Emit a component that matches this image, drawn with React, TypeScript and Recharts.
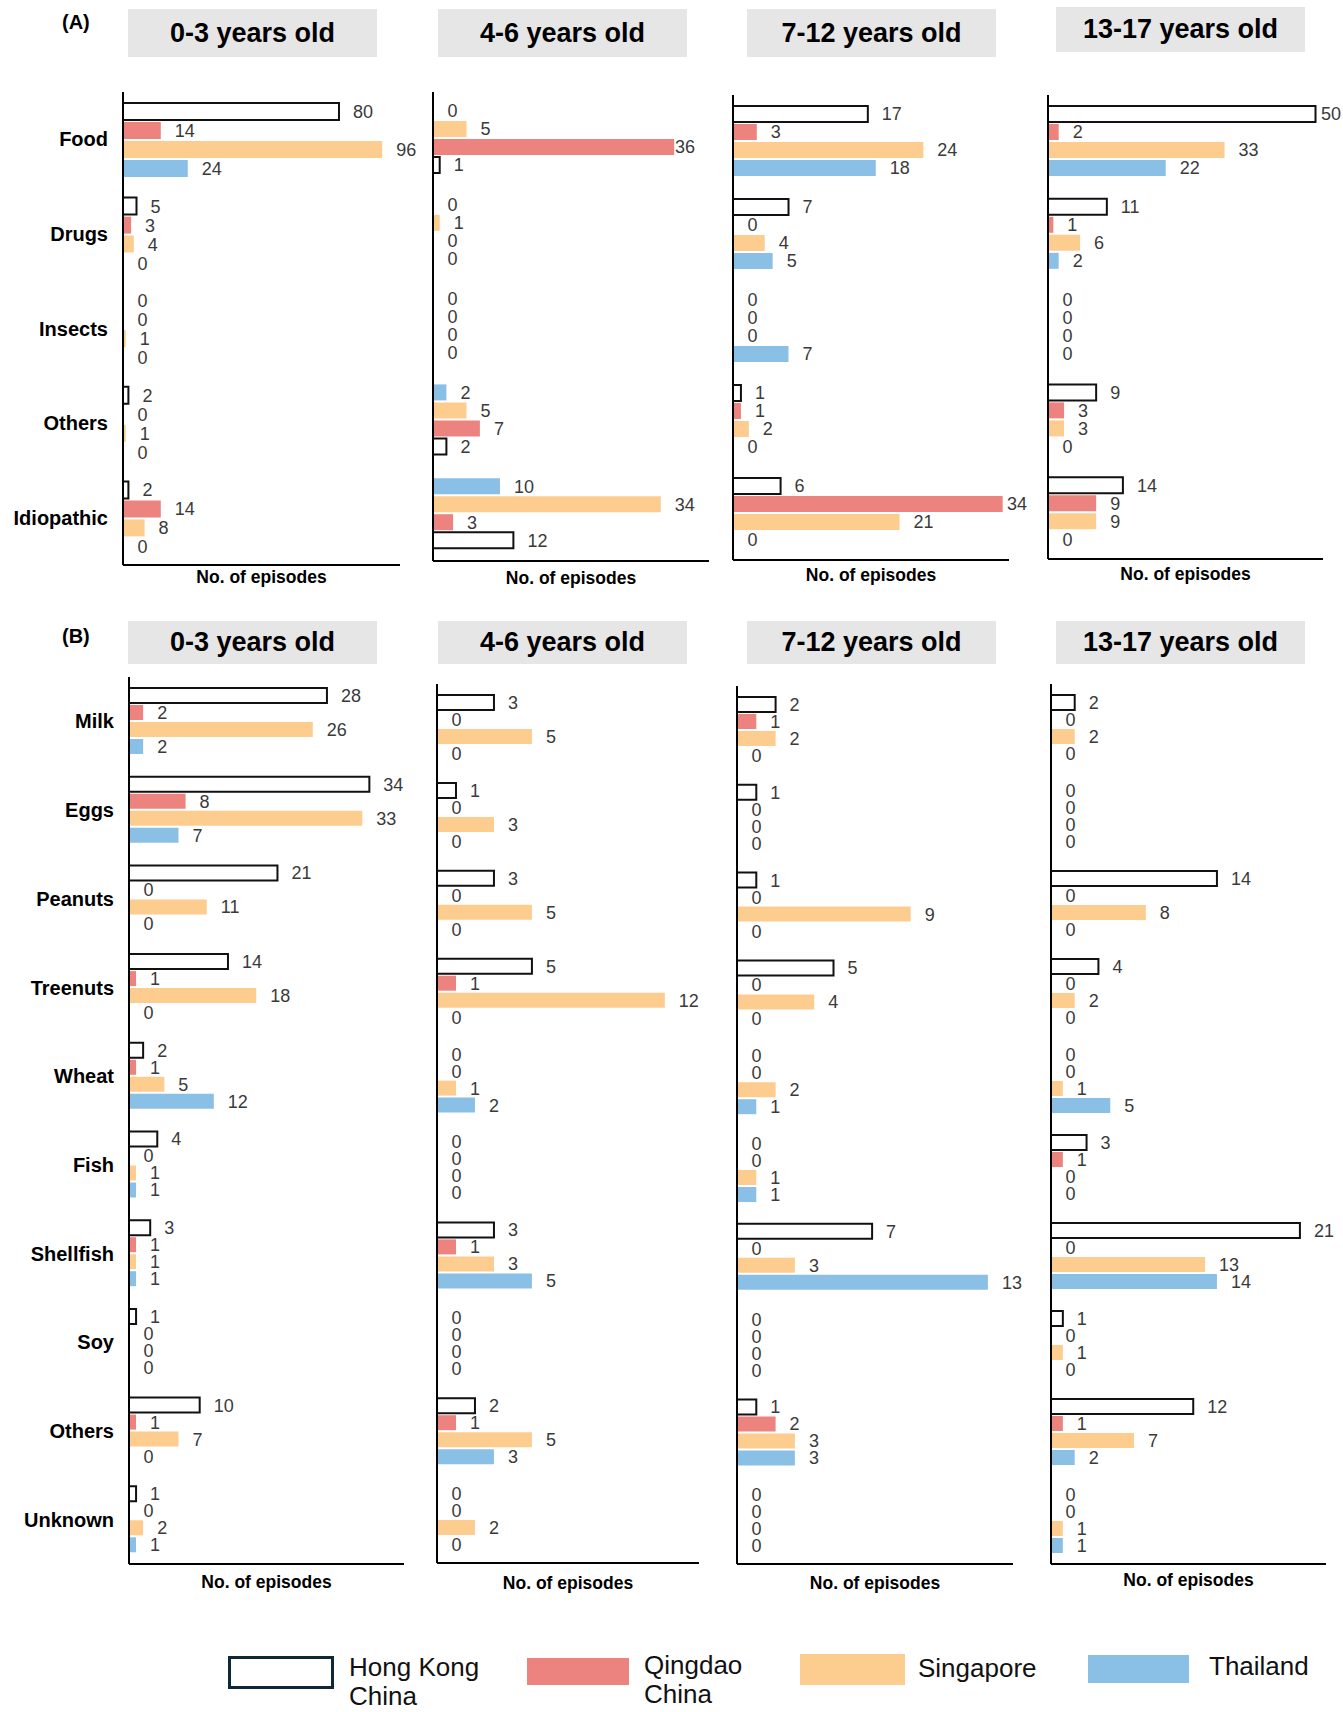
import React from 'react';
import { BarChart, Bar, XAxis, YAxis, LabelList, Label, Cell } from 'recharts';

const FONT = '"Liberation Sans", Arial, Helvetica, sans-serif';

const categoriesA = ['Food', 'Drugs', 'Insects', 'Others', 'Idiopathic'];
const categoriesB = ['Milk', 'Eggs', 'Peanuts', 'Treenuts', 'Wheat', 'Fish', 'Shellfish', 'Soy', 'Others', 'Unknown'];
const ageGroups = ['0-3 years old', '4-6 years old', '7-12 years old', '13-17 years old'];

// (A) episodes by elicitor, per age group
const A_0_3 = { hk: [80, 5, 0, 2, 2], qd: [14, 3, 0, 0, 14], sg: [96, 4, 1, 1, 8], th: [24, 0, 0, 0, 0] };
const A_4_6 = { hk: [1, 0, 0, 2, 12], qd: [36, 0, 0, 7, 3], sg: [5, 1, 0, 5, 34], th: [0, 0, 0, 2, 10] };
const A_7_12 = { hk: [17, 7, 0, 1, 6], qd: [3, 0, 0, 1, 34], sg: [24, 4, 0, 2, 21], th: [18, 5, 7, 0, 0] };
const A_13_17 = { hk: [50, 11, 0, 9, 14], qd: [2, 1, 0, 3, 9], sg: [33, 6, 0, 3, 9], th: [22, 2, 0, 0, 0] };

// (B) food-induced episodes by food, per age group
const B_0_3 = {
  hk: [28, 34, 21, 14, 2, 4, 3, 1, 10, 1],
  qd: [2, 8, 0, 1, 1, 0, 1, 0, 1, 0],
  sg: [26, 33, 11, 18, 5, 1, 1, 0, 7, 2],
  th: [2, 7, 0, 0, 12, 1, 1, 0, 0, 1],
};
const B_4_6 = {
  hk: [3, 1, 3, 5, 0, 0, 3, 0, 2, 0],
  qd: [0, 0, 0, 1, 0, 0, 1, 0, 1, 0],
  sg: [5, 3, 5, 12, 1, 0, 3, 0, 5, 2],
  th: [0, 0, 0, 0, 2, 0, 5, 0, 3, 0],
};
const B_7_12 = {
  hk: [2, 1, 1, 5, 0, 0, 7, 0, 1, 0],
  qd: [1, 0, 0, 0, 0, 0, 0, 0, 2, 0],
  sg: [2, 0, 9, 4, 2, 1, 3, 0, 3, 0],
  th: [0, 0, 0, 0, 1, 1, 13, 0, 3, 0],
};
const B_13_17 = {
  hk: [2, 0, 14, 4, 0, 3, 21, 1, 12, 0],
  qd: [0, 0, 0, 0, 0, 1, 0, 0, 1, 0],
  sg: [2, 0, 8, 2, 1, 0, 13, 1, 7, 1],
  th: [0, 0, 0, 0, 5, 0, 14, 0, 2, 1],
};

const SERIES: Record<string, { label: string[]; fill: string; stroke?: string }> = {
  hk: { label: ['Hong Kong', 'China'], fill: '#ffffff', stroke: '#111111' },
  qd: { label: ['Qingdao', 'China'], fill: '#EC837E' },
  sg: { label: ['Singapore'], fill: '#FDCC8F' },
  th: { label: ['Thailand'], fill: '#8BC0E6' },
};

const NORMAL = ['hk', 'qd', 'sg', 'th'];
const REVERSED = ['th', 'sg', 'qd', 'hk'];

// value label to the right of the bar end, kept inside the panel
const makeValueLabel = (maxX: number) => (props: any) => {
  const vb = props.viewBox || props;
  const end = Number(vb.x) + Math.max(Number(vb.width) || 0, 0);
  const cy = Number(vb.y) + Number(vb.height) / 2;
  const x = Math.min(end + 14, maxX);
  return (
    <text x={x} y={cy} dy="0.36em" fill="#3a3a3a" fontSize={18} fontFamily={FONT}>
      {props.value}
    </text>
  );
};

type PanelProps = {
  cats: string[];
  values: Record<string, number[]>;
  order: string[];
  axisX: number;
  top: number;
  plotW: number;
  plotH: number;
  max: number;
  showCats: boolean;
  labelY: number;
  labelRoom?: number;
};

const Panel = ({ cats, values, order, axisX, top, plotW, plotH, max, showCats, labelY, labelRoom = 2 }: PanelProps) => {
  const rows: Record<string, any>[] = cats.map((cat, i) => ({
    cat,
    hk: values.hk[i],
    qd: values.qd[i],
    sg: values.sg[i],
    th: values.th[i],
  }));
  const yw = showCats ? axisX : 12;
  const mt = 4;
  const mr = 40;
  const xh = 34;
  const labelOffset = xh - (labelY - (top + plotH) + 6);
  const renderLabel = makeValueLabel(yw + plotW - labelRoom);

  return (
    <div style={{ position: 'absolute', left: axisX - yw, top: top - mt }}>
      <BarChart
        layout="vertical"
        width={yw + plotW + mr}
        height={mt + plotH + xh}
        data={rows}
        margin={{ top: mt, right: mr, bottom: 0, left: 0 }}
        barCategoryGap={11}
        barGap={2}
      >
        <XAxis
          type="number"
          domain={[0, max]}
          allowDataOverflow
          tick={false}
          tickLine={false}
          axisLine={{ stroke: '#000', strokeWidth: 2 }}
          height={xh}
        >
          <Label
            value="No. of episodes"
            position="insideBottom"
            offset={labelOffset}
            fill="#000"
            fontSize={17.5}
            fontWeight="bold"
            fontFamily={FONT}
          />
        </XAxis>
        <YAxis
          type="category"
          dataKey="cat"
          width={yw}
          interval={0}
          tickLine={false}
          tickSize={0}
          tickMargin={15}
          axisLine={{ stroke: '#000', strokeWidth: 2 }}
          tick={showCats ? { fill: '#000', fontSize: 20, fontWeight: 'bold', fontFamily: FONT } : false}
        />
        {order.map((k) => (
          <Bar
            key={k}
            dataKey={k}
            fill={SERIES[k].fill}
            stroke={SERIES[k].stroke}
            strokeWidth={SERIES[k].stroke ? 2 : 0}
            minPointSize={0.5}
            isAnimationActive={false}
          >
            {rows.map((r, i) => (
              <Cell
                key={i}
                fill={r[k] === 0 ? 'none' : SERIES[k].fill}
                stroke={r[k] === 0 || !SERIES[k].stroke ? 'none' : SERIES[k].stroke}
              />
            ))}
            <LabelList dataKey={k} content={renderLabel} />
          </Bar>
        ))}
      </BarChart>
    </div>
  );
};

const titleBoxesA = [
  { left: 128, top: 9, w: 249, h: 48 },
  { left: 438, top: 9, w: 249, h: 48 },
  { left: 747, top: 9, w: 249, h: 48 },
  { left: 1056, top: 7, w: 249, h: 45 },
];
const titleBoxesB = [
  { left: 128, top: 621, w: 249, h: 43 },
  { left: 438, top: 621, w: 249, h: 43 },
  { left: 747, top: 621, w: 249, h: 43 },
  { left: 1056, top: 621, w: 249, h: 43 },
];

const TitleBox = ({ text, box }: { text: string; box: { left: number; top: number; w: number; h: number } }) => (
  <div
    style={{
      position: 'absolute',
      left: box.left,
      top: box.top,
      width: box.w,
      height: box.h,
      background: '#E6E6E6',
      display: 'flex',
      alignItems: 'center',
      justifyContent: 'center',
      fontFamily: FONT,
      fontWeight: 'bold',
      fontSize: 27,
      color: '#000',
    }}
  >
    {text}
  </div>
);

const legendItems = [
  { key: 'hk', box: { left: 228, top: 1656, w: 106, h: 33 }, textLeft: 349, textTop: 1653 },
  { key: 'qd', box: { left: 527, top: 1658, w: 102, h: 27 }, textLeft: 644, textTop: 1651 },
  { key: 'sg', box: { left: 800, top: 1654, w: 105, h: 31 }, textLeft: 918, textTop: 1654 },
  { key: 'th', box: { left: 1088, top: 1655, w: 101, h: 28 }, textLeft: 1209, textTop: 1652 },
];

export default function App() {
  const panelsA = [
    { values: A_0_3, order: NORMAL, axisX: 123, top: 92, plotW: 277, plotH: 473, max: 102.6, labelY: 577 },
    { values: A_4_6, order: REVERSED, axisX: 433, top: 92, plotW: 276, plotH: 469, max: 41.2, labelY: 578, labelRoom: 34 },
    { values: A_7_12, order: NORMAL, axisX: 733, top: 95, plotW: 276, plotH: 465, max: 34.8, labelY: 575 },
    { values: A_13_17, order: NORMAL, axisX: 1048, top: 95, plotW: 275, plotH: 464, max: 51.4, labelY: 574 },
  ];
  const panelsB = [
    { values: B_0_3, order: NORMAL, axisX: 129, top: 677, plotW: 275, plotH: 887, max: 38.9, labelY: 1582 },
    { values: B_4_6, order: NORMAL, axisX: 437, top: 684, plotW: 262, plotH: 879, max: 13.8, labelY: 1583 },
    { values: B_7_12, order: NORMAL, axisX: 737, top: 686, plotW: 276, plotH: 878, max: 14.3, labelY: 1583 },
    { values: B_13_17, order: NORMAL, axisX: 1051, top: 684, plotW: 275, plotH: 880, max: 23.2, labelY: 1580 },
  ];

  return (
    <div style={{ position: 'absolute', left: 0, top: 0, width: 1343, height: 1712, background: '#fff', fontFamily: FONT }}>
      <div style={{ position: 'absolute', left: 62, top: 11, fontSize: 20, fontWeight: 'bold' }}>(A)</div>
      <div style={{ position: 'absolute', left: 62, top: 625, fontSize: 20, fontWeight: 'bold' }}>(B)</div>

      {ageGroups.map((g, i) => (
        <TitleBox key={'ta' + i} text={g} box={titleBoxesA[i]} />
      ))}
      {ageGroups.map((g, i) => (
        <TitleBox key={'tb' + i} text={g} box={titleBoxesB[i]} />
      ))}

      {panelsA.map((p, i) => (
        <Panel key={'pa' + i} cats={categoriesA} showCats={i === 0} {...p} />
      ))}
      {panelsB.map((p, i) => (
        <Panel key={'pb' + i} cats={categoriesB} showCats={i === 0} {...p} />
      ))}

      {legendItems.map((it) => {
        const s = SERIES[it.key];
        return (
          <React.Fragment key={it.key}>
            <div
              style={{
                position: 'absolute',
                left: it.box.left,
                top: it.box.top,
                width: it.box.w,
                height: it.box.h,
                boxSizing: 'border-box',
                background: s.fill,
                border: s.stroke ? '3px solid #0E2838' : 'none',
              }}
            />
            <div
              style={{
                position: 'absolute',
                left: it.textLeft,
                top: it.textTop,
                fontSize: 26,
                lineHeight: '29px',
                color: '#111',
              }}
            >
              {s.label.map((l) => (
                <div key={l}>{l}</div>
              ))}
            </div>
          </React.Fragment>
        );
      })}
    </div>
  );
}
